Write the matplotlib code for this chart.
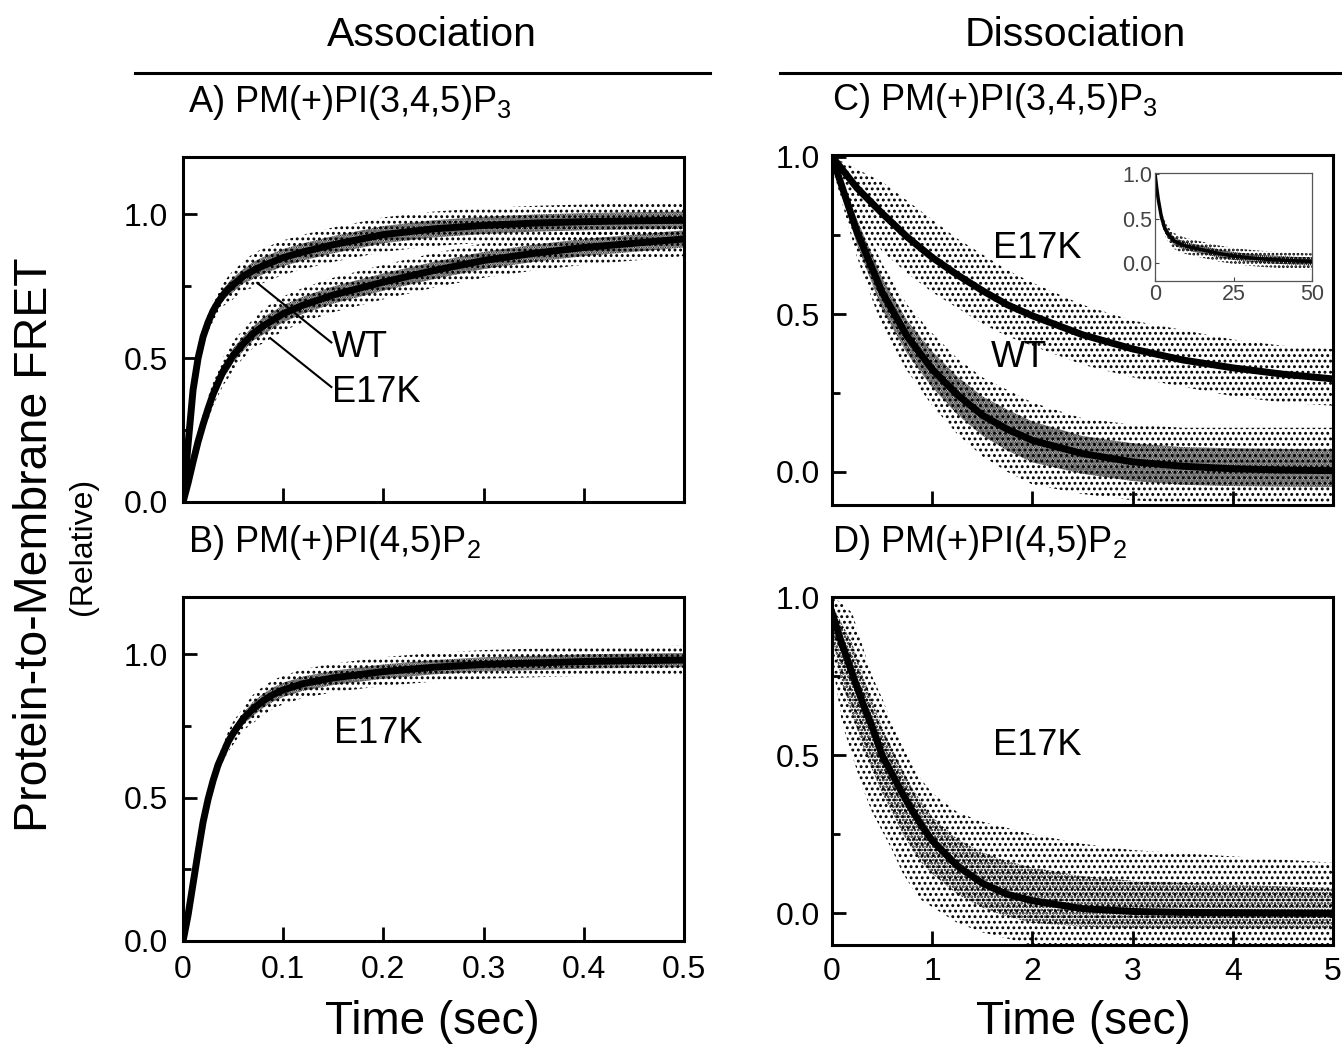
import matplotlib
matplotlib.use("Agg")
import matplotlib.pyplot as plt
import numpy as np
from matplotlib.ticker import MultipleLocator, FuncFormatter

plt.rcParams['font.family'] = ['Liberation Sans', 'DejaVu Sans']
plt.rcParams['mathtext.fontset'] = 'custom'
plt.rcParams['mathtext.rm'] = 'Liberation Sans'
plt.rcParams['mathtext.it'] = 'Liberation Sans:italic'
plt.rcParams['hatch.linewidth'] = 1.3

# ---- association, PI(3,4,5)P3 (panel A) ----
t_assoc = [0, 0.005, 0.01, 0.015, 0.02, 0.025, 0.03, 0.035, 0.04, 0.045, 0.05,
           0.06, 0.07, 0.08, 0.1, 0.12, 0.15, 0.2, 0.25, 0.3, 0.35, 0.4, 0.45, 0.5]
a_wt = [0, 0.20, 0.39, 0.50, 0.575, 0.625, 0.665, 0.695, 0.72, 0.74, 0.755,
        0.785, 0.805, 0.822, 0.85, 0.87, 0.895, 0.93, 0.95, 0.962, 0.97, 0.975, 0.978, 0.98]
a_wt_spread = [0.01, 0.02, 0.03, 0.03, 0.03, 0.035, 0.04, 0.04, 0.04, 0.045, 0.05,
               0.05, 0.06, 0.06, 0.06, 0.06, 0.06, 0.06, 0.06, 0.06, 0.06, 0.06, 0.06, 0.06]
a_e17k = [0, 0.066, 0.14, 0.21, 0.27, 0.325, 0.375, 0.415, 0.455, 0.48, 0.51,
          0.55, 0.586, 0.612, 0.655, 0.685, 0.72, 0.765, 0.805, 0.84, 0.865, 0.885, 0.90, 0.915]
a_e17k_spread = [0.01, 0.02, 0.03, 0.03, 0.04, 0.04, 0.04, 0.045, 0.05, 0.05, 0.05,
                 0.05, 0.05, 0.06, 0.06, 0.06, 0.06, 0.06, 0.06, 0.06, 0.06, 0.06, 0.06, 0.06]

# ---- association, PI(4,5)P2 (panel B) ----
t_assoc_b = [0, 0.005, 0.01, 0.015, 0.02, 0.025, 0.03, 0.035, 0.04, 0.045, 0.05,
             0.055, 0.06, 0.07, 0.08, 0.09, 0.1, 0.12, 0.15, 0.2, 0.25, 0.3, 0.35,
             0.4, 0.45, 0.5]
b_e17k = [0, 0.09, 0.20, 0.31, 0.415, 0.495, 0.56, 0.615, 0.655, 0.695, 0.725,
          0.75, 0.775, 0.81, 0.838, 0.86, 0.876, 0.898, 0.918, 0.94, 0.955, 0.965, 0.97,
          0.975, 0.978, 0.98]
b_e17k_spread = [0.01, 0.015, 0.02, 0.025, 0.03, 0.03, 0.03, 0.03, 0.03, 0.035, 0.04,
                 0.04, 0.04, 0.05, 0.05, 0.05, 0.05, 0.05, 0.05, 0.05, 0.05, 0.05, 0.05,
                 0.05, 0.05, 0.05]

# ---- dissociation, PI(3,4,5)P3 (panel C) ----
t_diss = [0, 0.25, 0.5, 0.75, 1, 1.25, 1.5, 1.75, 2, 2.5, 3, 3.5, 4, 4.5, 5]
c_wt = [1.0, 0.76, 0.57, 0.43, 0.325, 0.245, 0.18, 0.135, 0.10, 0.058,
        0.032, 0.018, 0.01, 0.006, 0.004]
c_wt_low = [0.97, 0.68, 0.46, 0.32, 0.21, 0.12, 0.05, 0.0, -0.04, -0.07,
            -0.09, -0.1, -0.1, -0.1, -0.1]
c_wt_high = [1.0, 0.84, 0.66, 0.53, 0.44, 0.36, 0.30, 0.26, 0.22, 0.17,
             0.15, 0.14, 0.14, 0.14, 0.14]
c_e17k = [1.0, 0.90, 0.82, 0.745, 0.68, 0.625, 0.575, 0.53, 0.495, 0.435,
          0.39, 0.355, 0.33, 0.31, 0.295]
c_e17k_low = [0.95, 0.80, 0.70, 0.63, 0.57, 0.52, 0.47, 0.43, 0.40, 0.34,
              0.30, 0.27, 0.24, 0.22, 0.21]
c_e17k_high = [1.0, 0.96, 0.92, 0.86, 0.80, 0.74, 0.69, 0.64, 0.60, 0.53,
               0.48, 0.45, 0.42, 0.40, 0.39]

# inset of panel C (long time scale)
t_inset = [0, 0.5, 1, 2, 3, 4, 6, 8, 10, 15, 20, 25, 30, 35, 40, 45, 50]
inset_fit = [1.0, 0.85, 0.72, 0.52, 0.40, 0.33, 0.25, 0.215, 0.19, 0.15,
             0.11, 0.08, 0.06, 0.045, 0.035, 0.025, 0.02]
inset_spread = [0.02, 0.05, 0.06, 0.07, 0.08, 0.08, 0.09, 0.09, 0.09, 0.09,
                0.09, 0.09, 0.09, 0.09, 0.09, 0.09, 0.09]

# ---- dissociation, PI(4,5)P2 (panel D) ----
t_diss_d = [0, 0.1, 0.2, 0.3, 0.4, 0.5, 0.6, 0.7, 0.8, 0.9, 1.0,
            1.25, 1.5, 1.75, 2, 2.5, 3, 3.5, 4, 5]
d_e17k = [0.95, 0.85, 0.76, 0.67, 0.59, 0.50, 0.44, 0.38, 0.325, 0.275, 0.23,
          0.15, 0.095, 0.06, 0.04, 0.015, 0.006, 0.003, 0.002, 0.0]
d_e17k_low = [0.80, 0.60, 0.50, 0.40, 0.32, 0.26, 0.20, 0.13, 0.08, 0.04, 0.02,
              -0.03, -0.06, -0.08, -0.1, -0.1, -0.1, -0.1, -0.1, -0.1]
d_e17k_high = [1.0, 0.98, 0.95, 0.85, 0.75, 0.68, 0.60, 0.53, 0.47, 0.42, 0.38,
               0.32, 0.29, 0.27, 0.25, 0.22, 0.20, 0.19, 0.18, 0.16]


def cloud(ax, t, fit, low, high, outer='...', inner='.......'):
    # stippled bands standing in for the raw data points:
    # sparse over the full spread, denser close to the fit
    t = np.asarray(t)
    fit = np.asarray(fit)
    low = np.asarray(low)
    high = np.asarray(high)
    ax.fill_between(t, low, high, facecolor='none', edgecolor='black',
                    hatch=outer, linewidth=0)
    if inner:
        ax.fill_between(t, (low + fit) / 2, (high + fit) / 2, facecolor='none',
                        edgecolor='black', hatch=inner, linewidth=0)


def style(ax, xmax, xstep, ylim, show_x):
    ax.set_xlim(0, xmax)
    ax.set_ylim(*ylim)
    ax.xaxis.set_major_locator(MultipleLocator(xstep))
    ax.yaxis.set_major_locator(MultipleLocator(0.5))
    ax.yaxis.set_minor_locator(MultipleLocator(0.25))
    ax.yaxis.set_major_formatter(FuncFormatter(lambda v, p: f'{v:.1f}'))
    if xstep < 1:
        ax.xaxis.set_major_formatter(
            FuncFormatter(lambda v, p: '0' if abs(v) < 1e-9 else f'{v:.1f}'))
    else:
        ax.xaxis.set_major_formatter(FuncFormatter(lambda v, p: f'{v:.0f}'))
    ax.tick_params(which='both', direction='in', width=2, labelsize=23,
                   top=False, right=False)
    ax.tick_params(which='major', length=10)
    ax.tick_params(which='minor', length=6)
    ax.tick_params(axis='y', pad=11)
    ax.tick_params(axis='x', pad=10, labelbottom=show_x)
    for s in ax.spines.values():
        s.set_linewidth(2.2)


fig = plt.figure(figsize=(13.42, 10.48), dpi=100)
axA = fig.add_axes([0.1364, 0.521, 0.3733, 0.3292])
axB = fig.add_axes([0.1364, 0.1021, 0.3733, 0.3282])
axC = fig.add_axes([0.620, 0.5181, 0.3733, 0.334])
axD = fig.add_axes([0.620, 0.0983, 0.3733, 0.332])

fit_lw = 5
lab = 26
ttl = 26

# A
wt = np.array(a_wt)
ek = np.array(a_e17k)
cloud(axA, t_assoc, wt, wt - a_wt_spread, wt + a_wt_spread)
cloud(axA, t_assoc, ek, ek - a_e17k_spread, ek + a_e17k_spread)
axA.plot(t_assoc, a_wt, color='black', lw=fit_lw)
axA.plot(t_assoc, a_e17k, color='black', lw=fit_lw)
style(axA, 0.5, 0.1, (0, 1.2), False)
axA.plot([0.074, 0.148], [0.762, 0.555], color='black', lw=1.5)
axA.plot([0.087, 0.148], [0.57, 0.40], color='black', lw=1.5)
axA.text(0.149, 0.537, 'WT', fontsize=lab, va='center', ha='left')
axA.text(0.149, 0.382, 'E17K', fontsize=lab, va='center', ha='left')
axA.text(0.01, 1 + 45 / 345, r'A) PM(+)PI(3,4,5)P$_{3}$', fontsize=ttl,
         transform=axA.transAxes, va='baseline')

# B
bk = np.array(b_e17k)
cloud(axB, t_assoc_b, bk, bk - b_e17k_spread, bk + b_e17k_spread)
axB.plot(t_assoc_b, b_e17k, color='black', lw=fit_lw)
style(axB, 0.5, 0.1, (0, 1.2), True)
axB.text(0.195, 0.725, 'E17K', fontsize=lab, va='center', ha='center')
axB.text(0.01, 1 + 45 / 344, r'B) PM(+)PI(4,5)P$_{2}$', fontsize=ttl,
         transform=axB.transAxes, va='baseline')

# C
cloud(axC, t_diss, c_e17k, c_e17k_low, c_e17k_high, outer='...', inner=None)
cloud(axC, t_diss, c_wt, c_wt_low, c_wt_high)
axC.plot(t_diss, c_wt, color='black', lw=fit_lw)
axC.plot(t_diss, c_e17k, color='black', lw=fit_lw)
style(axC, 5, 1, (-0.105, 1.005), False)
axC.tick_params(axis='y', pad=9)
axC.text(2.05, 0.707, 'E17K', fontsize=lab, va='center', ha='center')
axC.text(1.87, 0.363, 'WT', fontsize=lab, va='center', ha='center')
axC.text(0.0, 1 + 45 / 350, r'C) PM(+)PI(3,4,5)P$_{3}$', fontsize=ttl,
         transform=axC.transAxes, va='baseline')

# inset
axI = fig.add_axes([0.8607, 0.7319, 0.117, 0.103])
fi = np.array(inset_fit)
cloud(axI, t_inset, fi, fi - inset_spread, fi + inset_spread,
      outer='....', inner='........')
axI.plot(t_inset, inset_fit, color='black', lw=2.5)
axI.set_xlim(0, 50)
axI.set_ylim(-0.2, 1.01)
axI.set_xticks([0, 25, 50])
axI.set_yticks([0.0, 0.5, 1.0])
axI.set_yticklabels(['0.0', '0.5', '1.0'])
axI.tick_params(direction='in', length=3, width=0.8, labelsize=15.5,
                colors='#444444', pad=2)
for s in axI.spines.values():
    s.set_linewidth(0.9)
    s.set_color('#555555')

# D
dk = np.array(d_e17k)
cloud(axD, t_diss_d, dk, d_e17k_low, d_e17k_high, outer='...', inner='.....')
axD.plot(t_diss_d, d_e17k, color='black', lw=fit_lw)
style(axD, 5, 1, (-0.1, 1.0), True)
axD.tick_params(axis='y', pad=9)
axD.tick_params(axis='x', pad=9)
axD.text(2.05, 0.53, 'E17K', fontsize=lab, va='center', ha='center')
axD.text(0.0, 1 + 45 / 348, r'D) PM(+)PI(4,5)P$_{2}$', fontsize=ttl,
         transform=axD.transAxes, va='baseline')

# headers and shared labels
fig.text(0.322, 0.9666, 'Association', fontsize=29.5, ha='center', va='center')
fig.text(0.801, 0.9666, 'Dissociation', fontsize=29.5, ha='center', va='center')
fig.add_artist(plt.Line2D([135 / 1342, 710 / 1342], [0.930, 0.930],
                          color='black', lw=2.2))
fig.add_artist(plt.Line2D([780 / 1342, 1.0], [0.930, 0.930],
                          color='black', lw=2.2))
fig.text(0.026, 0.48, 'Protein-to-Membrane FRET', fontsize=33.5, rotation=90,
         ha='center', va='center')
fig.text(0.062, 0.479, '(Relative)', fontsize=23, rotation=90,
         ha='center', va='center')
fig.text(0.322, 0.025, 'Time (sec)', fontsize=33, ha='center', va='center')
fig.text(0.807, 0.025, 'Time (sec)', fontsize=33, ha='center', va='center')

fig.savefig('out.png', dpi=100)
